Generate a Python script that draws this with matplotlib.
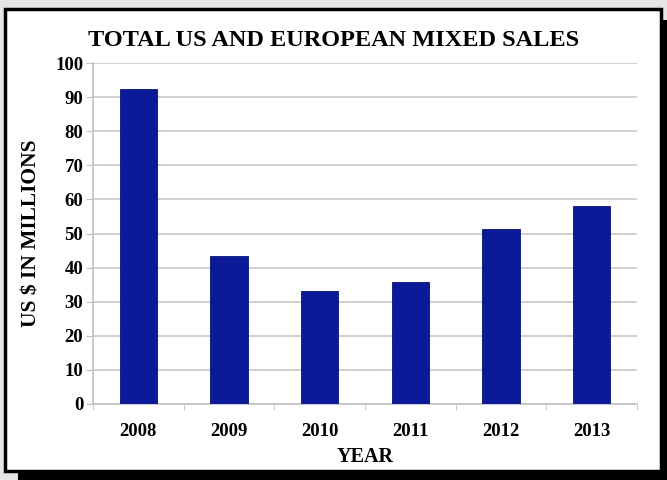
import matplotlib
matplotlib.use("Agg")
import matplotlib.pyplot as plt
from matplotlib.patches import Rectangle

years = ["2008", "2009", "2010", "2011", "2012", "2013"]
sales = [92.4, 43.5, 33.0, 35.7, 51.3, 58.1]
yticks = [0, 10, 20, 30, 40, 50, 60, 70, 80, 90, 100]

plt.rcParams['font.family'] = ['Liberation Serif', 'DejaVu Serif']

fig = plt.figure(figsize=(6.67, 4.8), dpi=100)
fig.patch.set_facecolor('#e6e6e6')

# shadow and framed white panel
fig.patches.append(Rectangle((18/667, 0), 1 - 18/667, 1 - 20/480,
                             transform=fig.transFigure, facecolor='black',
                             edgecolor='none', zorder=0))
fig.patches.append(Rectangle((4.5/667, 1 - 471/480), 656/667, 462.5/480,
                             transform=fig.transFigure, facecolor='white',
                             edgecolor='black', linewidth=2.5, zorder=1))

ax = fig.add_axes([93/667, 1 - 404/480, 544/667, 341/480])
ax.set_facecolor('white')
ax.set_zorder(2)
ax.patch.set_alpha(0)

x = list(range(len(years)))
ax.bar(x, sales, width=0.41, color='#0b1a98', edgecolor='#071270',
       linewidth=0.6, zorder=3)

ax.set_xlim(-0.5, len(years) - 0.5)
ax.set_ylim(0, 100)
ax.set_yticks(yticks)
ax.set_yticklabels([str(v) for v in yticks], fontsize=13.5, fontweight='bold')
ax.set_xticks(x)
ax.set_xticklabels(years, fontsize=13.5, fontweight='bold')
ax.tick_params(axis='x', length=0, pad=14)
ax.tick_params(axis='y', length=5, color='#c0c0c0', pad=2)
ax.set_xticks([i - 0.5 for i in range(len(years) + 1)], minor=True)
ax.tick_params(axis='x', which='minor', length=4, color='#c0c0c0')

ax.grid(axis='y', color='#c8c8c8', linewidth=1.2, zorder=0)
ax.set_axisbelow(True)
for s in ['top', 'right']:
    ax.spines[s].set_visible(False)
ax.spines['left'].set_color('#c0c0c0')
ax.spines['bottom'].set_color('#c0c0c0')
ax.spines['left'].set_linewidth(1.2)
ax.spines['bottom'].set_linewidth(1.2)

ax.set_ylabel('US $ IN MILLIONS', fontsize=15.5, fontweight='bold', labelpad=10)
ax.set_xlabel('YEAR', fontsize=14.5, fontweight='bold', labelpad=5)

fig.text(334/667, 1 - 40/480, 'TOTAL US AND EUROPEAN MIXED SALES',
         fontsize=17.5, fontweight='bold', ha='center', va='center', zorder=5)

fig.savefig('out.png', dpi=100, facecolor=fig.get_facecolor())
